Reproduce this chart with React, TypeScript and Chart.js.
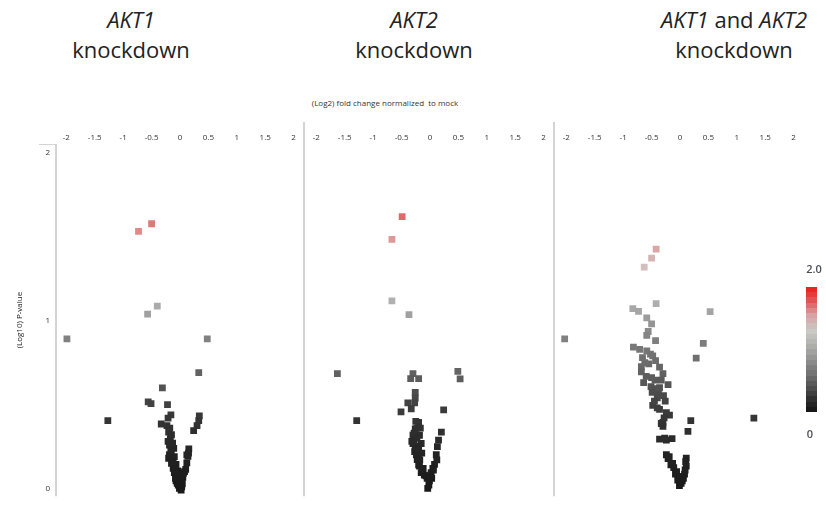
import React, { useEffect, useRef } from 'react';
import { Chart, registerables } from 'chart.js';

Chart.register(...registerables);

// ---- data ----
const xTickValues = [-2, -1.5, -1, -0.5, 0, 0.5, 1, 1.5, 2];
const yTickValues = [0, 1, 2];
const xAxisTitle = '(Log2) fold change normalized  to mock';
const yAxisTitle = '(Log10) P-value';
const colorbarMax = '2.0';
const colorbarMin = '0';

const akt1X = [-0.5, -0.73, -0.4, -0.57, -1.99, 0.48, 0.33, -0.31, -0.56, -0.51, -0.22, -1.27, -0.16, -0.21, -0.33, 0.34, 0.33, 0.3, 0.24,
  -0.23, -0.2, -0.17, -0.185, -0.11, -0.185, -0.14, -0.07, -0.04, -0.02, 0.0, 0.02, 0.155, 0.14, 0.12, 0.1, 0.05, 0.04, -0.07, -0.1, -0.155, -0.12, -0.05, 0.02, -0.01, 0.03, -0.15,
  -0.18, -0.15, -0.21, -0.13, -0.16, -0.2, -0.1, -0.12, -0.08, -0.06, -0.03, 0.0, -0.03, 0.01, 0.06, 0.08, 0.12, 0.15, 0.03, -0.08];
const akt1Y = [1.577, 1.532, 1.086, 1.039, 0.891, 0.891, 0.69, 0.599, 0.516, 0.506, 0.499, 0.404, 0.439, 0.419, 0.384, 0.433, 0.404, 0.375, 0.344,
  0.375, 0.336, 0.297, 0.259, 0.239, 0.201, 0.172, 0.143, 0.104, 0.066, 0.017, -0.01, 0.236, 0.191, 0.152, 0.114, 0.066, 0.027, 0.046, 0.094, 0.22, 0.12, 0.03, 0.08, 0.0, 0.04, 0.15,
  0.36, 0.32, 0.28, 0.27, 0.23, 0.18, 0.19, 0.16, 0.12, 0.09, 0.08, 0.05, 0.02, 0.03, 0.09, 0.1, 0.2, 0.21, 0.01, 0.06];

const akt2X = [-0.49, -0.67, -0.67, -0.37, -1.63, 0.49, 0.53, -1.29, 0.24,
  -0.3, -0.34, -0.2, -0.26, -0.26, -0.27, -0.39, -0.33, -0.51,
  -0.2, -0.26, -0.3, -0.185, -0.3, -0.155, -0.27, -0.145, -0.225, -0.185, -0.155, -0.07, 0.02, -0.01, -0.04,
  0.2, 0.15, 0.13, 0.11, 0.08, -0.23, -0.22, -0.2, -0.12, -0.28, 0.05,
  -0.25, -0.28, -0.23, -0.26, -0.2, -0.24, -0.18, -0.2, -0.13, -0.1, -0.05, 0.0, 0.03, -0.02, 0.12, 0.06, -0.17, -0.32];
const akt2Y = [1.619, 1.484, 1.117, 1.036, 0.684, 0.698, 0.653, 0.404, 0.468,
  0.684, 0.655, 0.655, 0.572, 0.539, 0.51, 0.51, 0.475, 0.456,
  0.394, 0.355, 0.317, 0.317, 0.268, 0.268, 0.22, 0.21, 0.172, 0.133, 0.094, 0.075, 0.094, 0.046, 0.0,
  0.336, 0.288, 0.249, 0.201, 0.143, 0.36, 0.25, 0.19, 0.12, 0.29, 0.12,
  0.4, 0.33, 0.3, 0.24, 0.23, 0.2, 0.17, 0.14, 0.11, 0.08, 0.06, 0.07, 0.06, 0.02, 0.17, 0.11, 0.36, 0.28];

const bothX = [-0.42, -0.5, -0.63, -0.42, 0.53, -0.83, -0.73, -0.585, -0.5, -0.56, -0.585, -0.43, -2.03, 0.41, 0.285, -0.82, -0.71, -0.585, -0.48, -0.43,
  -0.68, -0.55, -0.36, -0.68, -0.595, -0.3, -0.33, -0.44, -0.64, -0.21, -0.51, -0.42, -0.29, -0.49, -0.48, -0.36, -0.185, -0.33, 0.19, 0.14,
  1.3, -0.36, -0.24, -0.14, -0.24, -0.21, -0.11, -0.08, -0.04, -0.01, 0.11, 0.11, 0.08, 0.04, -0.3, -0.24, -0.4, -0.26, -0.36, -0.16, 0.0,
  -0.13, -0.19, -0.06, -0.03, 0.02, 0.06, 0.1, 0.09, -0.27, -0.3, -0.28, -0.4, -0.45, -0.38, -0.5, -0.62, -0.52, -0.66];
const bothY = [1.426, 1.372, 1.318, 1.101, 1.053, 1.071, 1.055, 1.016, 0.981, 0.935, 0.912, 0.881, 0.891, 0.864, 0.777, 0.842, 0.829, 0.819, 0.79, 0.761,
  0.726, 0.742, 0.723, 0.694, 0.668, 0.684, 0.645, 0.645, 0.63, 0.619, 0.607, 0.595, 0.553, 0.572, 0.495, 0.471, 0.437, 0.387, 0.404, 0.34,
  0.419, 0.294, 0.288, 0.297, 0.201, 0.178, 0.124, 0.085, 0.05, 0.017, 0.181, 0.133, 0.085, 0.046, 0.394, 0.452, 0.54, 0.52, 0.6, 0.14, 0.07,
  0.15, 0.19, 0.1, 0.07, 0.03, 0.06, 0.16, 0.11, 0.3, 0.37, 0.42, 0.48, 0.52, 0.56, 0.66, 0.75, 0.8, 0.78];

// ---- colour maps (value -> rgb) ----
const pointStops: number[][] = [
  [0, 25, 25, 25], [0.2, 35, 35, 35], [0.4, 52, 52, 52], [0.5, 64, 64, 64], [0.6, 82, 82, 82], [0.7, 100, 100, 100],
  [0.9, 130, 130, 130], [1.07, 168, 168, 168], [1.25, 205, 202, 202], [1.37, 215, 180, 180], [1.5, 224, 148, 148],
  [1.62, 226, 105, 105], [2.0, 230, 25, 25],
];
const barStops: number[][] = [
  [0, 20, 20, 20], [0.16, 40, 40, 40], [0.38, 78, 78, 78], [0.64, 118, 118, 118], [1.0, 168, 168, 166],
  [1.3, 202, 202, 198], [1.56, 216, 160, 160], [1.82, 226, 72, 72], [2.0, 232, 28, 28],
];

function interp(stops: number[][], v: number): string {
  if (v <= stops[0][0]) return `rgb(${stops[0][1]},${stops[0][2]},${stops[0][3]})`;
  for (let i = 1; i < stops.length; i++) {
    if (v <= stops[i][0]) {
      const a = stops[i - 1], b = stops[i];
      const t = (v - a[0]) / (b[0] - a[0]);
      const c = [1, 2, 3].map(k => Math.round(a[k] + (b[k] - a[k]) * t));
      return `rgb(${c[0]},${c[1]},${c[2]})`;
    }
  }
  const l = stops[stops.length - 1];
  return `rgb(${l[1]},${l[2]},${l[3]})`;
}

const FONT = '"Open Sans", "DejaVu Sans", sans-serif';

function makeDataset(xs: number[], ys: number[], axisId: string) {
  return {
    type: 'scatter' as const,
    data: xs.map((x, i) => ({ x, y: ys[i] })),
    xAxisID: axisId,
    yAxisID: 'y',
    pointStyle: 'rect',
    pointRadius: 4.8,
    pointHoverRadius: 4.8,
    pointBorderWidth: 0,
    pointBackgroundColor: ys.map(v => interp(pointStops, v)),
    showLine: false,
  };
}

function makeXScale() {
  return {
    type: 'linear',
    position: 'top',
    stack: 'panels',
    stackWeight: 1,
    min: -2.2,
    max: 2.2,
    grid: { display: false, drawTicks: false },
    border: { display: false },
    afterBuildTicks: (s: any) => { s.ticks = xTickValues.map(v => ({ value: v })); },
    afterFit: (s: any) => { s.height = 24; },
    ticks: {
      padding: 1,
      autoSkip: false,
      maxRotation: 0,
      minRotation: 0,
      color: '#333',
      font: { size: 8, family: FONT },
      callback: (v: any) => String(v),
    },
  };
}

const framePlugin = {
  id: 'frame',
  beforeDatasetsDraw(chart: any) {
    const ctx = chart.ctx;
    const { left, top, bottom } = chart.chartArea;
    ctx.save();
    ctx.strokeStyle = '#d4d4d4';
    ctx.lineWidth = 2;
    ctx.beginPath();
    ctx.moveTo(left + 1, top);
    ctx.lineTo(left + 1, bottom);
    ['x1', 'x2', 'x3'].forEach(id => {
      const s = chart.scales[id];
      if (s && s.left > left + 5) {
        ctx.moveTo(s.left - 1, s.top + 2);
        ctx.lineTo(s.left - 1, bottom);
      }
    });
    ctx.stroke();
    ctx.lineWidth = 1;
    ctx.beginPath();
    ctx.moveTo(left - 16, top + 0.5);
    ctx.lineTo(left + 2, top + 0.5);
    ctx.stroke();
    ctx.restore();
  },
};

function ScatterPanels() {
  const ref = useRef<HTMLCanvasElement | null>(null);
  useEffect(() => {
    if (!ref.current) return;
    const chart = new Chart(ref.current, {
      type: 'scatter',
      data: {
        datasets: [
          makeDataset(akt1X, akt1Y, 'x1'),
          makeDataset(akt2X, akt2Y, 'x2'),
          makeDataset(bothX, bothY, 'x3'),
        ] as any,
      },
      options: {
        responsive: false,
        animation: false,
        devicePixelRatio: 1,
        events: [],
        layout: { padding: { top: 30, right: 21, left: 0, bottom: 0 } },
        plugins: { legend: { display: false }, tooltip: { enabled: false }, title: { display: false } },
        scales: {
          // declared right-to-left: the layout stacks them in reverse order
          x3: makeXScale(),
          x2: makeXScale(),
          x1: makeXScale(),
          y: {
            type: 'linear',
            position: 'left',
            min: -0.046,
            max: 2.052,
            grid: { display: false, drawTicks: false },
            border: { display: false },
            afterBuildTicks: (s: any) => { s.ticks = yTickValues.map(v => ({ value: v })); },
            afterFit: (s: any) => { s.width = 55; },
            ticks: { padding: 5, color: '#333', font: { size: 8, family: FONT }, callback: (v: any) => String(v) },
            title: { display: true, text: yAxisTitle, color: '#222', font: { size: 8, family: FONT }, padding: { top: 15, bottom: 0 } },
          },
        } as any,
      },
      plugins: [framePlugin],
    });
    return () => chart.destroy();
  }, []);
  return <canvas ref={ref} width={826} height={416} style={{ position: 'absolute', left: 0, top: 90, width: 826, height: 416 }} />;
}

const titleStyle: React.CSSProperties = {
  position: 'absolute',
  width: 240,
  textAlign: 'center',
  fontFamily: FONT,
  fontWeight: 400,
  fontSize: 22,
  lineHeight: '30px',
  color: '#222',
  top: 4,
};

function bandGradient(): string {
  const n = 24;
  const parts: string[] = [];
  for (let i = 0; i < n; i++) {
    const v = 2 - ((i + 0.5) * 2) / n;
    const c = interp(barStops, v);
    parts.push(`${c} ${(i * 100) / n}% ${((i + 1) * 100) / n}%`);
  }
  return `linear-gradient(to bottom, ${parts.join(', ')})`;
}

export default function App() {
  useEffect(() => {
    document.body.style.margin = '0';
    document.body.style.overflow = 'hidden';
  }, []);
  return (
    <div style={{ position: 'relative', width: 826, height: 506, overflow: 'hidden', background: '#fff' }}>
      <div style={{ ...titleStyle, left: 131 - 120 }}>
        <i>AKT1</i><br />knockdown
      </div>
      <div style={{ ...titleStyle, left: 414 - 120 }}>
        <i>AKT2</i><br />knockdown
      </div>
      <div style={{ ...titleStyle, left: 734 - 120 }}>
        <i>AKT1</i> and <i>AKT2</i><br />knockdown
      </div>
      <div style={{ position: 'absolute', left: 285, width: 200, top: 97, textAlign: 'center', fontFamily: FONT, fontSize: 8, color: '#333', whiteSpace: 'pre' }}>
        {xAxisTitle}
      </div>
      <ScatterPanels />
      <div style={{ position: 'absolute', left: 806, top: 287, width: 11, height: 125, background: bandGradient() }} />
      <div style={{ position: 'absolute', left: 796, width: 36, top: 261, textAlign: 'center', fontFamily: FONT, fontSize: 11, fontWeight: 600, color: '#4a4f5a' }}>
        {colorbarMax}
      </div>
      <div style={{ position: 'absolute', left: 792, width: 36, top: 426, textAlign: 'center', fontFamily: FONT, fontSize: 11, fontWeight: 600, color: '#4a4f5a' }}>
        {colorbarMin}
      </div>
    </div>
  );
}
